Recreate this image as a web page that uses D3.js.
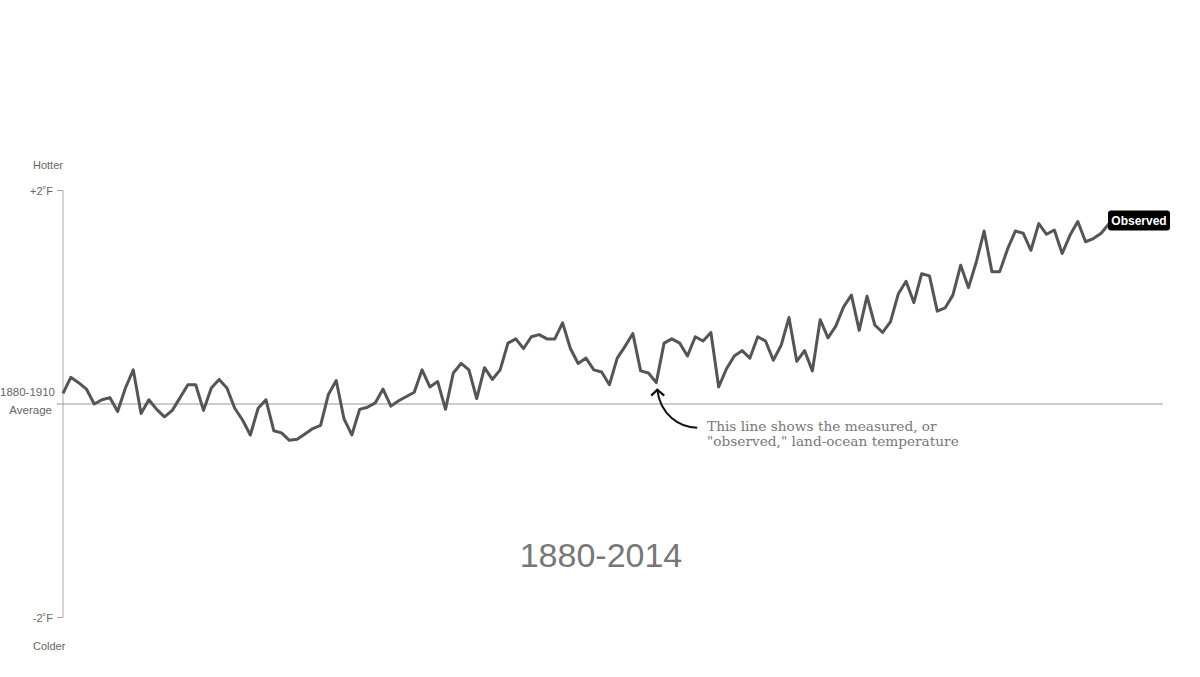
<!DOCTYPE html>
<html>
<head>
<meta charset="utf-8">
<script src="https://cdn.jsdelivr.net/npm/d3@7"></script>
<style>
    body { margin: 0; background: #fff; }
    text { font-family: "Liberation Sans", Arial, sans-serif; }
</style>
</head>
<body>
<div id="chart"></div>
<script>
// years shown on the x axis
const firstYear = 1880;
const lastYear = 2014;

// observed land-ocean temperature, °F relative to the 1880-1910 average
const observed = [
    0.10, 0.25, 0.20, 0.14, 0.00, 0.04, 0.06, -0.07, 0.15, 0.32,
    -0.09, 0.04, -0.05, -0.12, -0.06, 0.06, 0.18, 0.18, -0.06, 0.15,
    0.23, 0.15, -0.04, -0.15, -0.29, -0.04, 0.04, -0.25, -0.27, -0.34,
    -0.33, -0.28, -0.23, -0.20, 0.09, 0.22, -0.14, -0.29, -0.05, -0.03,
    0.01, 0.14, -0.02, 0.03, 0.07, 0.11, 0.32, 0.16, 0.21, -0.05,
    0.29, 0.38, 0.32, 0.05, 0.34, 0.23, 0.32, 0.57, 0.61, 0.52,
    0.63, 0.65, 0.61, 0.61, 0.76, 0.52, 0.38, 0.43, 0.32, 0.30,
    0.18, 0.43, 0.54, 0.66, 0.31, 0.29, 0.20, 0.57, 0.61, 0.57,
    0.45, 0.63, 0.59, 0.67, 0.16, 0.33, 0.45, 0.50, 0.43, 0.63,
    0.59, 0.41, 0.55, 0.81, 0.40, 0.50, 0.31, 0.79, 0.62, 0.73,
    0.91, 1.02, 0.69, 1.01, 0.74, 0.67, 0.77, 1.03, 1.15, 0.95,
    1.22, 1.20, 0.87, 0.90, 1.02, 1.30, 1.09, 1.33, 1.62, 1.24,
    1.24, 1.45, 1.62, 1.60, 1.44, 1.69, 1.59, 1.63, 1.41, 1.58,
    1.71, 1.52, 1.55, 1.60, 1.69
];

// y axis ticks
const tickValues = [2, -2];
const tickLabels = ["+2˚F", "-2˚F"];

const annotationLines = [
    "This line shows the measured, or",
    "\"observed,\" land-ocean temperature"
];

const data = observed.map((v, i) => ({ year: firstYear + i, value: v }));

const width = 1200;
const height = 677;

const svg = d3.select("#chart")
    .append("svg")
    .attr("width", width)
    .attr("height", height);

const x = d3.scaleLinear()
    .domain([firstYear, lastYear])
    .range([63, 1109]);

const y = d3.scaleLinear()
    .domain([-2, 2])
    .range([617.5, 190.5]);

// vertical axis line
svg.append("line")
    .attr("x1", 63).attr("x2", 63)
    .attr("y1", y(2)).attr("y2", y(-2))
    .attr("stroke", "#aaa")
    .attr("stroke-width", 1);

// small ticks at +2 / -2
svg.selectAll(".tick")
    .data(tickValues)
    .join("line")
    .attr("class", "tick")
    .attr("x1", 57).attr("x2", 63)
    .attr("y1", d => y(d)).attr("y2", d => y(d))
    .attr("stroke", "#aaa");

svg.selectAll(".tick-label")
    .data(tickValues)
    .join("text")
    .attr("class", "tick-label")
    .attr("x", 53)
    .attr("y", d => y(d) + 4)
    .attr("text-anchor", "end")
    .style("font-size", "11px")
    .style("fill", "#666")
    .text((d, i) => tickLabels[i]);

// zero line (1880-1910 average)
svg.append("line")
    .attr("x1", 57).attr("x2", 1163)
    .attr("y1", y(0)).attr("y2", y(0))
    .attr("stroke", "#999")
    .attr("stroke-width", 1);

svg.append("text")
    .attr("x", 55).attr("y", y(0) - 8)
    .attr("text-anchor", "end")
    .style("font-size", "11.5px")
    .style("fill", "#666")
    .text("1880-1910");

svg.append("text")
    .attr("x", 52).attr("y", y(0) + 10)
    .attr("text-anchor", "end")
    .style("font-size", "11.5px")
    .style("fill", "#666")
    .text("Average");

svg.append("text")
    .attr("x", 33).attr("y", 169)
    .style("font-size", "11px")
    .style("fill", "#666")
    .text("Hotter");

svg.append("text")
    .attr("x", 33).attr("y", 650)
    .style("font-size", "11px")
    .style("fill", "#666")
    .text("Colder");

// the observed line
const line = d3.line()
    .x(d => x(d.year))
    .y(d => y(d.value));

svg.append("path")
    .datum(data)
    .attr("d", line)
    .attr("fill", "none")
    .attr("stroke", "#555")
    .attr("stroke-width", 3)
    .attr("stroke-linejoin", "round");

// "Observed" label at the end of the line
const last = data[data.length - 1];
const labelG = svg.append("g")
    .attr("transform", `translate(${x(last.year) - 1}, ${y(last.value) - 13})`);

labelG.append("rect")
    .attr("width", 62)
    .attr("height", 20)
    .attr("rx", 3)
    .attr("fill", "#000");

labelG.append("text")
    .attr("x", 31).attr("y", 14)
    .attr("text-anchor", "middle")
    .style("font-size", "12px")
    .style("font-weight", "bold")
    .style("fill", "#fff")
    .text("Observed");

// annotation with curved arrow pointing at 1956
const target = data.find(d => d.year === 1956);
const tx = x(target.year) + 1;
const ty = y(target.value) + 7;

svg.append("path")
    .attr("d", `M${tx + 40},${ty + 38} C${tx + 22},${ty + 38} ${tx + 3},${ty + 25} ${tx},${ty}`)
    .attr("fill", "none")
    .attr("stroke", "#111")
    .attr("stroke-width", 2);

svg.append("path")
    .attr("d", `M${tx - 6},${ty + 6} L${tx},${ty} L${tx + 7},${ty + 6}`)
    .attr("fill", "none")
    .attr("stroke", "#111")
    .attr("stroke-width", 2.2);

svg.selectAll(".note")
    .data(annotationLines)
    .join("text")
    .attr("class", "note")
    .attr("x", 707)
    .attr("y", (d, i) => 431 + i * 14.5)
    .style("font-family", "'DejaVu Serif', Georgia, serif")
    .style("font-size", "13.7px")
    .style("fill", "#777")
    .text(d => d);

// period title
svg.append("text")
    .attr("x", 601).attr("y", 567)
    .attr("text-anchor", "middle")
    .style("font-size", "34px")
    .style("fill", "#777")
    .text(`${firstYear}-${lastYear}`);
</script>
</body>
</html>
